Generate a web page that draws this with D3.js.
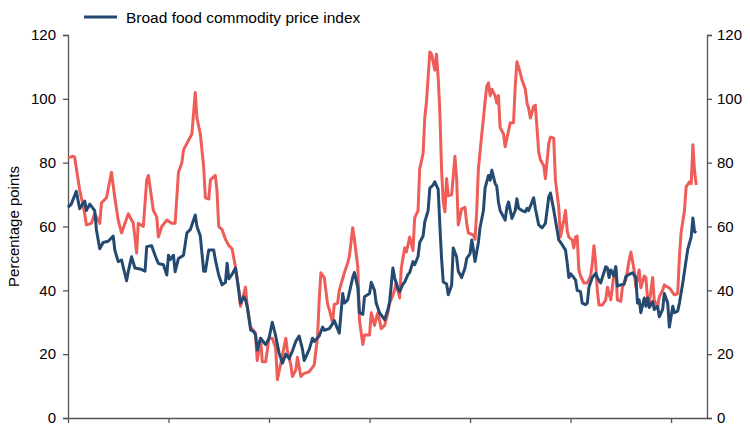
<!DOCTYPE html>
<html>
<head>
<meta charset="utf-8">
<script src="https://cdn.jsdelivr.net/npm/d3@7"></script>
<style>
  body { margin: 0; background: #fff; }
  text { font-family: "Liberation Sans", Arial, sans-serif; }
</style>
</head>
<body>
<svg id="chart"></svg>
<script>
// months counted from Jan 1990
const startDate = new Date(1990, 0, 1);
const endDate = new Date(2021, 9, 15);

const legendLabels = ["Broad food commodity price index"];
const yTicks = [0, 20, 40, 60, 80, 100, 120];
const xTickYears = [1990, 1995, 2000, 2005, 2010, 2015, 2020];

const redMonths = [0,3,4,7,10,11,14,16,19,20,23,26,28,30,32,34,36,39,40,41,42,45,47,48,51,53,54,56,59,62,64,66,68,69,72,74,76,77,79,81,82,84,85,88,89,90,92,94,96,98,100,102,103,106,107,109,112,113,115,116,118,120,122,124,125,127,130,131,133,134,136,137,139,141,144,147,149,150,151,153,155,156,158,159,161,162,165,167,168,170,171,173,174,176,177,180,181,183,185,187,189,191,192,195,196,198,199,201,202,204,206,207,209,210,212,213,214,216,217,219,220,221,222,223,224,225,226,227,229,230,231,232,233,235,237,238,239,242,243,244,245,247,249,250,251,252,253,255,256,257,258,260,261,263,264,266,267,268,269,271,273,274,275,276,278,279,280,281,282,284,285,287,288,290,291,293,294,296,297,298,299,301,302,303,304,305,306,308,310,312,313,314,315,316,317,319,321,322,323,324,326,327,328,330,331,333,334,335,336,338,339,341,342,344,345,346,347,349,350,352,353,355,356,358,359,362,364,365,366,368,369,371,372,373,374,375];
const redValues = [81.5,82,81.8,71.5,64,60.5,61,64,61,67.4,69,77,69,62,58,61,64,61,56.7,51.7,61,60,74.6,76,65,63,56.7,60,62,61,61,77,80,84,87,89,102,94,89,78.7,69,68.6,74.6,76,71,60,59,56,54,53,47.4,40,35,41,35,28.5,26.6,18,25,17.6,17.6,25,25,22,12,17,25,21,16.6,13,15,19,13,14,14.5,16.6,25.4,37,45.5,44,35.6,34,29.8,35.6,36,40,45.5,48.6,50.7,59.6,56,47.4,30.7,23,26,26,33,29,33,28,29,33,36,40,42.6,37.6,47,53.3,52,56.7,52.5,62.7,65,78,83,94,99,114.7,114,109,114,106.6,96,78,67.7,64.6,75,69.6,70,75.6,82,75.5,60.5,65.5,66,61,58,57.3,56,64.6,78,88.7,99,104,105,101,103,101,98.7,101,91,89,85,90,92.5,92.5,104,111.6,110,106,103,98.7,97,94,97.6,98,91,83.4,81,79,75,86,88,87.7,74.6,66,56.7,62,65,58.6,56.7,55.7,53.3,56.7,57,46.4,44.5,42.3,42.3,44.5,48.6,54,48.6,40,35.4,35.4,37,41,39,37,45.4,47.4,37,36.5,41,43.3,46.4,49.5,52,46.4,41,46.4,40.8,44.5,44,37,36,44,37,34.5,38,40,41.7,41,40.8,38.6,39,50.5,58,65,72.4,74,73.4,85.6,77.7,73];

const blueMonths = [0,2,5,7,10,11,13,16,17,19,21,24,27,28,30,32,33,35,36,38,40,43,46,47,50,52,54,57,59,60,61,63,64,66,69,71,73,76,77,79,81,82,84,87,88,90,92,94,95,96,98,100,101,103,105,106,107,109,111,112,113,115,118,120,122,124,126,128,130,132,134,136,138,140,141,144,146,147,150,152,153,156,158,159,162,164,165,167,170,171,173,174,176,177,180,181,183,184,186,189,191,192,194,195,197,198,200,201,203,204,206,207,209,210,212,213,215,216,218,219,221,222,223,224,226,227,229,230,232,233,235,237,238,240,241,242,243,245,246,248,249,251,252,253,255,256,257,258,261,262,263,265,267,268,269,271,273,274,275,277,278,279,281,283,285,287,288,290,291,293,295,297,298,299,300,302,303,304,306,307,309,310,311,313,315,316,318,319,321,322,323,324,326,327,328,330,332,333,335,337,339,340,341,342,344,345,346,347,349,350,352,353,355,356,358,359,361,362,364,365,367,369,370,372,373,374,375];
const blueValues = [66,67,71,65.6,68,65,67,65,59,53,55,55.4,57,52.6,49,49.5,47.3,43,46,50.5,47,46.7,46,53.7,54,51,48.4,48,44.8,51,49.6,51,45.8,50,51,58,59,63.6,60,57,46,46,52.6,52.6,49.6,44.8,41.7,42.5,48.5,43.6,45,47,43.6,36,38,37,35,27.6,27,26,21.3,25,23,25,30,25.7,20.4,17.2,20,18.6,21,24,25.7,21.5,18,21.5,25,24,25.7,28.5,27.5,28,29.5,30.5,26.6,39,36,37,44,45.6,41,33,32.5,38,39,42.5,40,36,33,30.8,34,36.5,47,44,40.5,39.6,42,42.6,45,45.6,49,48,50.6,55,57,61.4,65,72,73,74,71.6,60.5,50,42.6,42,38.6,41.6,53.3,50.5,46,44,47,50,51.5,55.8,53,49,55,59.6,65,72,76,74.5,77.6,73.5,72.6,67.7,65,62,66,67.7,62.5,65,68.7,65.7,65,64.6,65.7,65,67.7,69,65.7,60.5,59.6,61,69.3,70.5,65.2,62,55.8,54.3,52.6,48.6,44,45.2,44,43.3,40,39.6,36,35.5,36,41,44,45.3,44,42.3,44,47.4,47,44,46.4,44.5,47.4,41.3,41.7,42,44.3,45,45.5,44,36,37,33,37.6,35,37.6,34.6,36.5,34,35,31.7,34,39,36,28.5,35,33,33.5,36,42.3,49.5,53,56.7,62.7,58.5,58];

const width = 750, height = 430;
const margin = { top: 35, right: 43, bottom: 12, left: 68 };

const svg = d3.select("#chart")
  .attr("width", width)
  .attr("height", height);

const x = d3.scaleTime()
  .domain([startDate, endDate])
  .range([margin.left, width - margin.right]);

const y = d3.scaleLinear()
  .domain([0, 120])
  .range([height - margin.bottom, margin.top]);

const toDate = m => d3.timeMonth.offset(startDate, m);

const redData = redMonths.map((m, i) => ({ date: toDate(m), value: redValues[i] }));
const blueData = blueMonths.map((m, i) => ({ date: toDate(m), value: blueValues[i] }));

const line = d3.line()
  .x(d => x(d.date))
  .y(d => y(d.value));

// axes
const axisColor = "#555";
const leftAxis = svg.append("g")
  .attr("transform", "translate(" + margin.left + ",0)")
  .call(d3.axisLeft(y).tickValues(yTicks).tickSize(5).tickPadding(7));
const rightAxis = svg.append("g")
  .attr("transform", "translate(" + (width - margin.right) + ",0)")
  .call(d3.axisRight(y).tickValues(yTicks).tickSize(5).tickPadding(5));
const bottomAxis = svg.append("g")
  .attr("transform", "translate(0," + (height - margin.bottom) + ")")
  .call(d3.axisBottom(x)
    .tickValues(xTickYears.map(yr => new Date(yr, 0, 1)))
    .tickSize(5)
    .tickSizeOuter(0)
    .tickFormat(""));

[leftAxis, rightAxis, bottomAxis].forEach(g => {
  g.selectAll(".domain").attr("stroke", axisColor).attr("stroke-width", 1.3);
  g.selectAll(".tick line").attr("stroke", axisColor).attr("stroke-width", 1.3);
  g.selectAll(".tick text")
    .attr("fill", "#000")
    .style("font-size", "15px")
    .style("font-family", "'Liberation Sans', Arial, sans-serif");
});

// series
svg.append("path")
  .datum(redData)
  .attr("fill", "none")
  .attr("stroke", "#ef5d58")
  .attr("stroke-width", 3)
  .attr("stroke-linejoin", "round")
  .attr("d", line);

svg.append("path")
  .datum(blueData)
  .attr("fill", "none")
  .attr("stroke", "#244a72")
  .attr("stroke-width", 3)
  .attr("stroke-linejoin", "round")
  .attr("d", line);

// y title
svg.append("text")
  .attr("transform", "translate(19," + (y(60)) + ") rotate(-90)")
  .attr("text-anchor", "middle")
  .style("font-size", "15px")
  .attr("fill", "#000")
  .text("Percentage points");

// legend
const legend = svg.append("g").attr("transform", "translate(84,17)");
legend.append("line")
  .attr("x1", 0).attr("x2", 33)
  .attr("y1", 0).attr("y2", 0)
  .attr("stroke", "#244a72")
  .attr("stroke-width", 3);
legend.append("text")
  .attr("x", 42)
  .attr("y", 5.5)
  .style("font-size", "15.5px")
  .attr("fill", "#000")
  .text(legendLabels[0]);
</script>
</body>
</html>
